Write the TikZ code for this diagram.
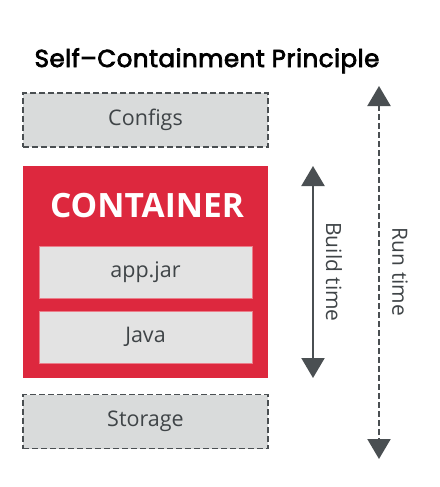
\documentclass[tikz,border=0pt]{standalone}
\usepackage{fontspec}
\setmainfont{Open Sans}
\newfontfamily\titlefont[FakeBold=3,LetterSpace=2]{Poppins}
\usetikzlibrary{arrows.meta}
\definecolor{rhred}{HTML}{DD283E}
\definecolor{boxgray}{HTML}{D9DBDB}
\definecolor{innergray}{HTML}{E3E3E3}
\definecolor{darkgray}{HTML}{4A4F52}
\definecolor{txtgray}{HTML}{3F4447}
\tikzset{
  outerbox/.style={draw=darkgray, dashed, dash pattern=on 6pt off 3pt, line width=1.8pt, fill=boxgray, minimum width=245pt, minimum height=54pt, inner sep=0pt, text=txtgray, font=\fontsize{21.5}{26}\selectfont},
  redbox/.style={fill=rhred, draw=none, minimum width=245pt, minimum height=212pt, inner sep=0pt},
  innerbox/.style={fill=innergray, draw=rhred!60, line width=0.5pt, minimum width=213pt, minimum height=52pt, inner sep=0pt, text=txtgray, font=\fontsize{21.5}{26}\selectfont},
  timearrow/.style={darkgray, line width=2.2pt, {Triangle[length=20pt,width=23pt]}-{Triangle[length=20pt,width=23pt]}},
  timelabel/.style={text=txtgray, font=\fontsize{21}{24}\selectfont, rotate=-90, inner sep=0pt},
}
\begin{document}
\begin{tikzpicture}[x=1pt,y=-1pt]
\useasboundingbox (0,0) rectangle (439,487);
\node[font=\titlefont\fontsize{24.5}{28}\selectfont, anchor=base, inner sep=0pt] (title) at (207,67) {Self–Containment Principle};
\node[outerbox] (configs) at (145.5,120) {Configs};
\node[redbox] (container) at (145.5,272) {};
\node[font=\bfseries\fontsize{33.5}{36}\selectfont, text=white, inner sep=0pt] (ctitle) at (147,206) {CONTAINER};
\node[innerbox] (app) at (145.5,272) {app.jar};
\node[innerbox] (java) at (145.5,337) {Java};
\node[outerbox] (storage) at (145.5,421.5) {Storage};
\coordinate (btop) at (313,166);
\coordinate (bbot) at (313,378);
\coordinate (rtop) at (379,86);
\coordinate (rbot) at (379,459);
\draw[timearrow] (btop) -- (bbot);
\draw[timearrow, dashed, dash pattern=on 6pt off 3pt] (rtop) -- (rbot);
\node[timelabel] (blabel) at (334,272) {Build time};
\node[timelabel] (rlabel) at (400,272) {Run time};
\end{tikzpicture}
\end{document}
